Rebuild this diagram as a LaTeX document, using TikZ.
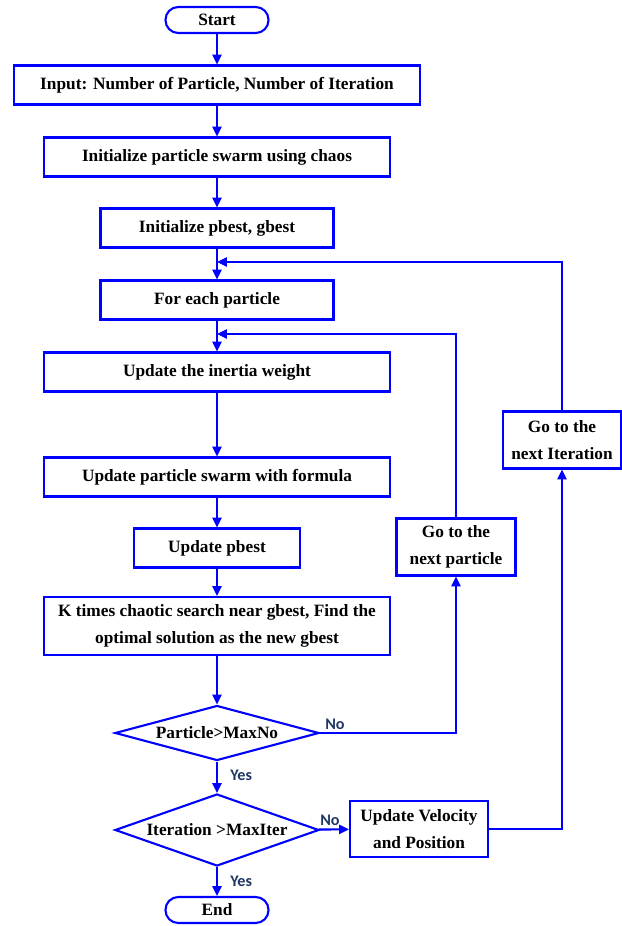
\documentclass[tikz,border=0pt]{standalone}
\usepackage{fontspec}
\setmainfont{Liberation Serif}[BoldFont={Liberation Serif Bold}]
\newfontfamily\labelfont{Carlito}[BoldFont={Carlito Bold}]
\usetikzlibrary{shapes.geometric,arrows.meta}

\definecolor{lineblue}{RGB}{0,0,255}
\definecolor{labelnavy}{RGB}{32,56,100}

\tikzset{
  box/.style={draw=lineblue, line width=1.5pt, minimum height=0.975cm, inner sep=2pt,
    font=\fontsize{12.3}{19}\selectfont\bfseries, align=center},
  term/.style={box, rounded corners=0.32cm, minimum width=2.575cm, minimum height=0.65cm},
  test/.style={draw=lineblue, line width=1.5pt, diamond, aspect=3.7, inner sep=0pt,
    font=\fontsize{12.3}{19}\selectfont\bfseries},
  flow/.style={draw=lineblue, line width=1.5pt, -{Triangle[length=7pt,width=6.5pt]}},
  link/.style={draw=lineblue, line width=1.5pt},
  answer/.style={font=\labelfont\fontsize{11.5}{13}\selectfont\bfseries, text=labelnavy, inner sep=0pt}
}

\begin{document}
\begin{tikzpicture}[x=0.025cm,y=-0.025cm]
\useasboundingbox (0,0) rectangle (622,926);

\node[term] (start) at (217,20) {Start};
\node[box, minimum width=10.15cm] (input) at (217,85) {Input: Number of Particle, Number of Iteration};
\node[box, minimum width=8.65cm] (chaos) at (217,157) {Initialize particle swarm using chaos};
\node[box, minimum width=5.825cm] (init) at (217,228) {Initialize pbest, gbest};
\node[box, minimum width=5.825cm] (each) at (217,300) {For each particle};
\node[box, minimum width=8.65cm] (inertia) at (217,372) {Update the inertia weight};
\node[box, minimum width=8.65cm] (swarm) at (217,477) {Update particle swarm with formula};
\node[box, minimum width=4.15cm] (pbest) at (217,548) {Update pbest};
\node[box, minimum width=8.65cm, minimum height=1.45cm] (search) at (217,626)
  {K times chaotic search near gbest, Find the\\optimal solution as the new gbest};
\node[test, minimum width=5.1cm, minimum height=1.375cm] (maxno) at (217,733) {Particle>MaxNo};
\node[test, minimum width=5.1cm, minimum height=1.8cm] (maxiter) at (217,830) {Iteration >MaxIter};
\node[term] (end) at (217,910) {End};

\node[box, minimum width=2.975cm, minimum height=1.425cm] (nextpart) at (456,547) {Go to the\\next particle};
\node[box, minimum width=2.95cm, minimum height=1.425cm] (nextiter) at (562,440) {Go to the\\next Iteration};
\node[box, minimum width=3.45cm, minimum height=1.4cm] (velocity) at (419,829) {Update Velocity\\and Position};

\coordinate (iterjoin) at (217,262);
\coordinate (partjoin) at (217,334);

\draw[flow] (start) -- (input);
\draw[flow] (input) -- (chaos);
\draw[flow] (chaos) -- (init);
\draw[flow] (init) -- (each);
\draw[flow] (each) -- (inertia);
\draw[flow] (inertia) -- (swarm);
\draw[flow] (swarm) -- (pbest);
\draw[flow] (pbest) -- (search);
\draw[flow] (search) -- (maxno);
\draw[flow] (maxno) -- (maxiter);
\draw[flow] (maxiter) -- (end);
\draw[flow] (maxiter) -- (velocity);
\draw[flow] (maxno.east) -| (nextpart.south);
\draw[flow] (velocity.east) -| (nextiter.south);
\draw[flow] (nextpart.north) |- (partjoin);
\draw[flow] (nextiter.north) |- (iterjoin);

\node[answer, anchor=south west] (noone) at (325,730) {No};
\node[answer, anchor=west] (yesone) at (230,775) {Yes};
\node[answer, anchor=south west] (notwo) at (320,826) {No};
\node[answer, anchor=west] (yestwo) at (230,881) {Yes};
\end{tikzpicture}
\end{document}
